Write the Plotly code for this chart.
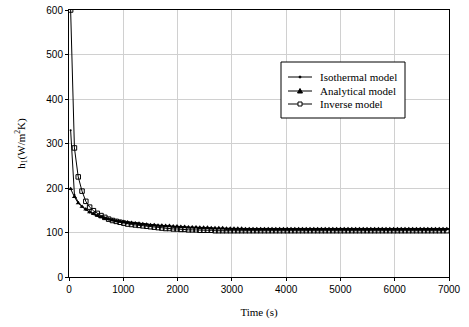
import plotly.graph_objects as go

time_s = [30, 100, 170, 240, 310, 380, 450, 520, 590, 660,
          730, 800, 870, 940, 1010, 1080, 1150, 1220, 1290, 1360,
          1430, 1500, 1570, 1640, 1710, 1780, 1850, 1920, 1990, 2060,
          2130, 2200, 2270, 2340, 2410, 2480, 2550, 2620, 2690, 2760,
          2830, 2900, 2970, 3040, 3110, 3180, 3250, 3320, 3390, 3460,
          3530, 3600, 3670, 3740, 3810, 3880, 3950, 4020, 4090, 4160,
          4230, 4300, 4370, 4440, 4510, 4580, 4650, 4720, 4790, 4860,
          4930, 5000, 5070, 5140, 5210, 5280, 5350, 5420, 5490, 5560,
          5630, 5700, 5770, 5840, 5910, 5980, 6050, 6120, 6190, 6260,
          6330, 6400, 6470, 6540, 6610, 6680, 6750, 6820, 6890, 6960]

isothermal = [330, 185, 168, 158, 151, 145, 141, 137, 134, 131,
              129, 127, 125, 124, 123, 122, 121, 120, 119, 118,
              117, 116, 116, 115, 115, 114, 114, 113, 113, 112,
              112, 111, 111, 111, 110, 110, 110, 109, 109, 109,
              109, 108, 108, 108, 108, 108, 107, 107, 107, 107,
              107, 107, 107, 107, 107, 107, 107, 107, 107, 107,
              107, 107, 107, 107, 107, 107, 107, 107, 107, 107,
              107, 107, 107, 107, 107, 107, 107, 107, 107, 107,
              107, 107, 107, 107, 107, 107, 107, 107, 107, 107,
              107, 107, 107, 107, 107, 107, 107, 107, 107, 107]

analytical = [198, 180, 166, 158, 152, 146, 142, 138, 135, 132,
              130, 128, 126, 125, 124, 123, 122, 121, 120, 119,
              118, 117, 117, 116, 116, 115, 115, 114, 114, 113,
              113, 112, 112, 112, 111, 111, 111, 110, 110, 110,
              110, 109, 109, 109, 109, 109, 108, 108, 108, 108,
              108, 108, 108, 108, 108, 108, 108, 108, 108, 108,
              108, 108, 108, 108, 108, 108, 108, 108, 108, 108,
              108, 108, 108, 108, 108, 108, 108, 108, 108, 108,
              108, 108, 108, 108, 108, 108, 108, 108, 108, 108,
              108, 108, 108, 108, 108, 108, 108, 108, 108, 108]

inverse = [600, 290, 225, 193, 170, 157, 149, 143, 138, 134,
           130, 127, 125, 123, 121, 119, 118, 117, 116, 115,
           114, 113, 112, 111, 110, 109, 109, 108, 108, 107,
           107, 106, 106, 106, 105, 105, 105, 105, 104, 104,
           104, 104, 104, 104, 104, 104, 104, 104, 104, 104,
           104, 104, 104, 104, 104, 104, 104, 104, 104, 104,
           104, 104, 104, 104, 104, 104, 104, 104, 104, 104,
           104, 104, 104, 104, 104, 104, 104, 104, 104, 104,
           104, 104, 104, 104, 104, 104, 104, 104, 104, 104,
           104, 104, 104, 104, 104, 104, 104, 104, 104, 104]

series_names = ["Isothermal model", "Analytical model", "Inverse model"]
x_ticks = [0, 1000, 2000, 3000, 4000, 5000, 6000, 7000]
y_ticks = [0, 100, 200, 300, 400, 500, 600]

# layout geometry (pixels)
W, H = 469, 327
ML, MR, MT, MB = 69, 20, 10, 50
PW, PH = W - ML - MR, H - MT - MB


def px(xp):
    return (xp - ML) / PW


def py(yp):
    return (H - MB - yp) / PH


serif = "Liberation Serif, Times New Roman"

fig = go.Figure()
fig.add_trace(go.Scatter(x=time_s, y=isothermal, name=series_names[0],
                         mode="lines+markers", showlegend=False,
                         line=dict(color="black", width=1),
                         marker=dict(symbol="circle", size=2, color="black")))
fig.add_trace(go.Scatter(x=time_s, y=analytical, name=series_names[1],
                         mode="lines+markers", showlegend=False,
                         line=dict(color="black", width=1),
                         marker=dict(symbol="triangle-up", size=4.5, color="black")))
fig.add_trace(go.Scatter(x=time_s, y=inverse, name=series_names[2],
                         mode="lines+markers", showlegend=False,
                         line=dict(color="black", width=1),
                         marker=dict(symbol="square-open", size=4.5, color="black",
                                     line=dict(width=1, color="black"))))

# custom compact legend
shapes = [dict(type="rect", xref="paper", yref="paper",
               x0=px(281), x1=px(405), y0=py(118), y1=py(62),
               line=dict(color="black", width=1), fillcolor="white", layer="above")]
annotations = []
rows = [77, 91, 104]
for i, (name, ry) in enumerate(zip(series_names, rows)):
    shapes.append(dict(type="line", xref="paper", yref="paper",
                       x0=px(288), x1=px(312), y0=py(ry), y1=py(ry),
                       line=dict(color="black", width=1), layer="above"))
    cx, cy = 300, ry
    if i == 0:
        shapes.append(dict(type="circle", xref="paper", yref="paper",
                           x0=px(cx - 1), x1=px(cx + 1), y0=py(cy + 1), y1=py(cy - 1),
                           line=dict(color="black", width=1), fillcolor="black",
                           layer="above"))
    elif i == 1:
        path = "M {} {} L {} {} L {} {} Z".format(px(cx - 2.5), py(cy + 2),
                                                px(cx + 2.5), py(cy + 2),
                                                px(cx), py(cy - 2.5))
        shapes.append(dict(type="path", xref="paper", yref="paper", path=path,
                           line=dict(color="black", width=1), fillcolor="black",
                           layer="above"))
    else:
        shapes.append(dict(type="rect", xref="paper", yref="paper",
                           x0=px(cx - 2), x1=px(cx + 2), y0=py(cy + 2), y1=py(cy - 2),
                           line=dict(color="black", width=1), fillcolor="white",
                           layer="above"))
    annotations.append(dict(xref="paper", yref="paper", x=px(318), y=py(ry),
                            xanchor="left", yanchor="middle", showarrow=False,
                            text=name, font=dict(family=serif, size=11, color="black")))

fig.update_layout(
    width=W, height=H,
    margin=dict(l=ML, r=MR, t=MT, b=MB, autoexpand=False),
    paper_bgcolor="white", plot_bgcolor="white",
    font=dict(family="Liberation Sans, Arial", size=10, color="black"),
    showlegend=False,
    shapes=shapes, annotations=annotations,
)
fig.update_xaxes(range=[0, 7000], tickvals=x_ticks, showgrid=True,
                 gridcolor="#d0d0d0", gridwidth=1, showline=True,
                 linecolor="black", linewidth=1, mirror=True, automargin=False,
                 ticks="outside", ticklen=3, tickcolor="black", zeroline=False,
                 title=dict(text="Time (s)", standoff=14,
                            font=dict(family=serif, size=11)))
fig.update_yaxes(range=[0, 600], tickvals=y_ticks, showgrid=True,
                 gridcolor="#d0d0d0", gridwidth=1, showline=True,
                 linecolor="black", linewidth=1, mirror=True, automargin=False,
                 ticks="outside", ticklen=3, tickcolor="black", zeroline=False,
                 title=dict(text="h<sub>1</sub>(W/m<sup>2</sup>K)", standoff=18,
                            font=dict(family=serif, size=11)))

fig.write_html("out.html", config={"displayModeBar": False},
               post_script="document.body.style.margin='0';")
